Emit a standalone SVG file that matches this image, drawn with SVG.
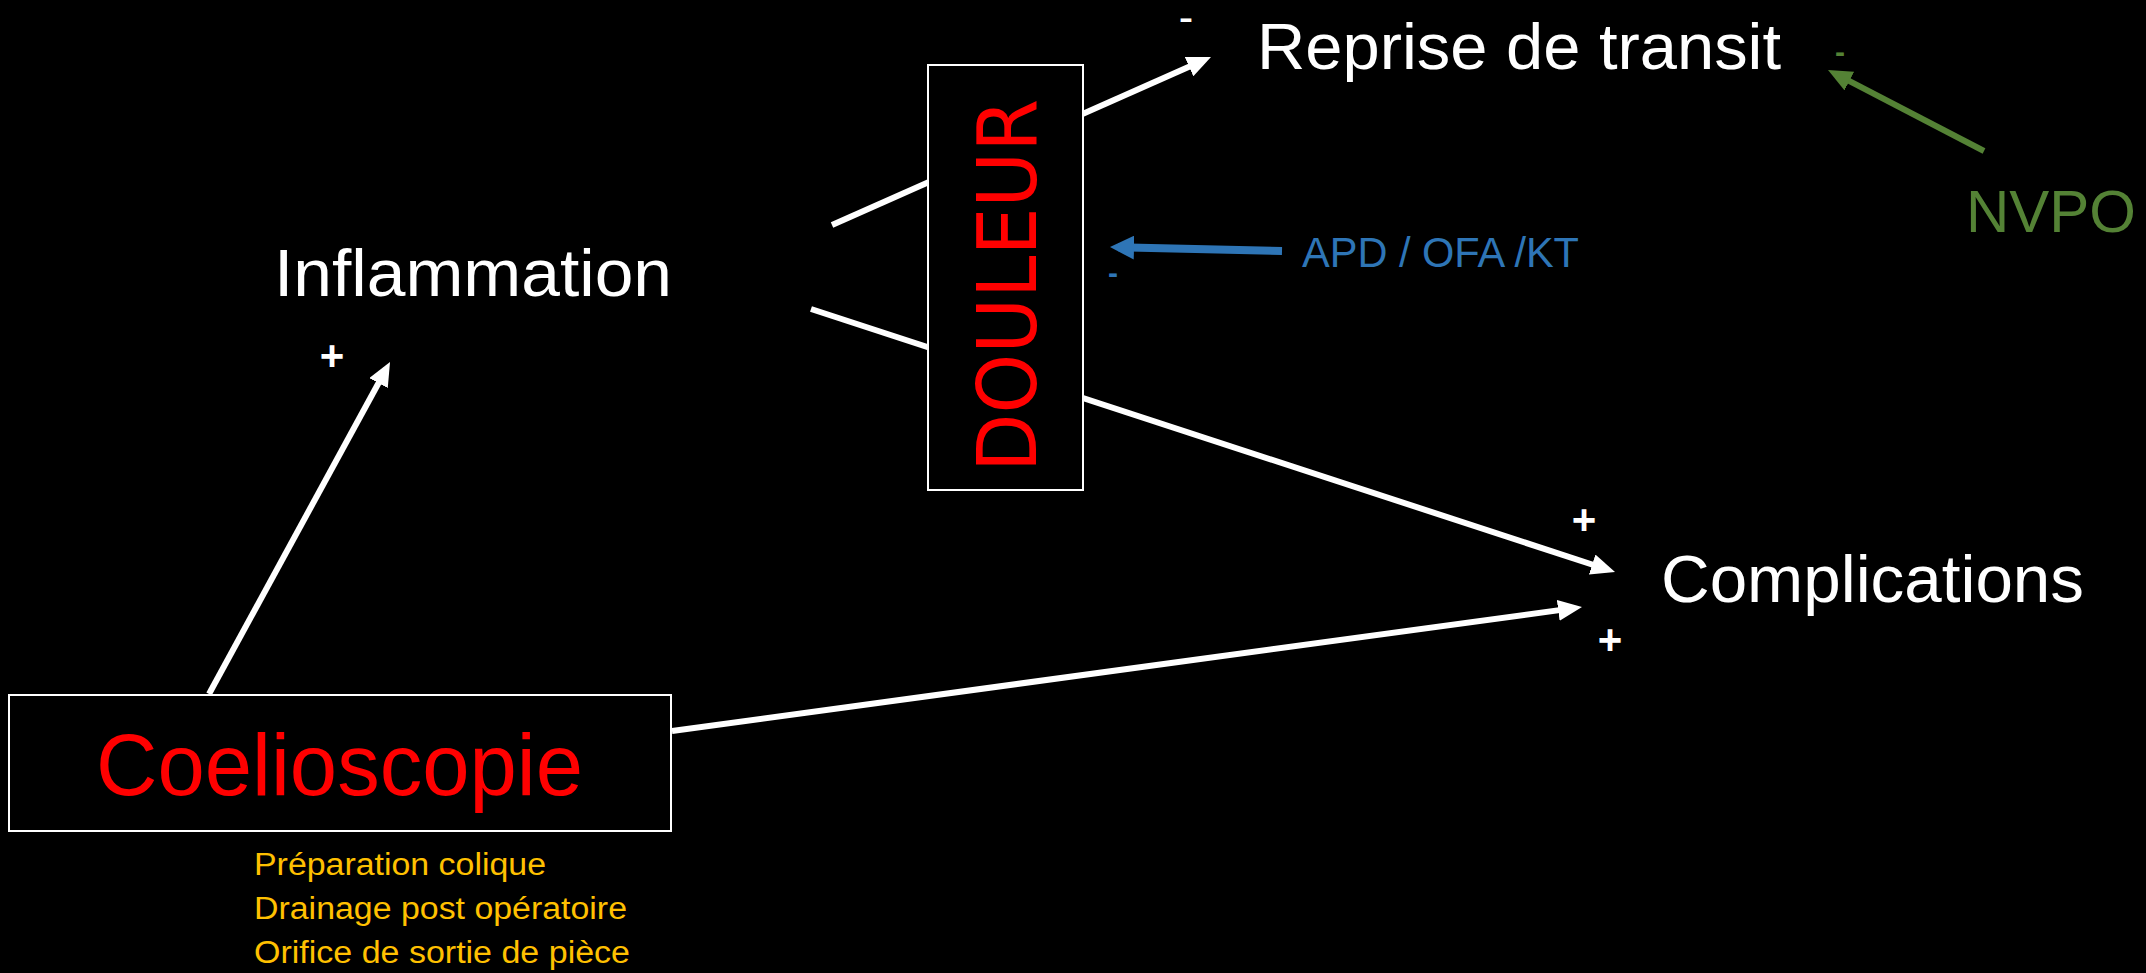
<svg xmlns="http://www.w3.org/2000/svg" width="2146" height="973" viewBox="0 0 2146 973">
<defs>
<style>
.bg{fill:#000}
.w{fill:#fff;font-family:"Liberation Sans",Arial,sans-serif}
.box{fill:#000;stroke:#fff;stroke-width:2}
.cw{stroke:#fff;stroke-width:6;fill:none}
.cb{stroke:#2E75B6;stroke-width:8;fill:none}
.cg{stroke:#548235;stroke-width:6;fill:none}
.red{fill:#FF0000}
.yel{fill:#FFC000;font-family:"Liberation Sans",Arial,sans-serif;font-size:31px}
.blue{fill:#2E75B6;font-family:"Liberation Sans",Arial,sans-serif}
.green{fill:#548235;font-family:"Liberation Sans",Arial,sans-serif}
.sign{font-family:"Liberation Sans",Arial,sans-serif;font-weight:bold;text-anchor:middle}
</style>
<marker id="aw" markerUnits="strokeWidth" markerWidth="4" markerHeight="3.5" viewBox="0 0 4 3.5" refX="2.67" refY="1.75" orient="auto"><path d="M0,0 L4,1.75 L0,3.5 z" fill="#fff"/></marker>
<marker id="ab" markerUnits="strokeWidth" markerWidth="3" markerHeight="3" viewBox="0 0 3 3" refX="2" refY="1.5" orient="auto"><path d="M0,0 L3,1.5 L0,3 z" fill="#2E75B6"/></marker>
<marker id="ag" markerUnits="strokeWidth" markerWidth="4" markerHeight="3.5" viewBox="0 0 4 3.5" refX="2.67" refY="1.75" orient="auto"><path d="M0,0 L4,1.75 L0,3.5 z" fill="#548235"/></marker>
</defs>
<rect class="bg" x="0" y="0" width="2146" height="973"/>
<g id="connectors">
<path class="cw" d="M832,225 L1203.7,60.2" marker-end="url(#aw)"/>
<path class="cw" d="M811,309 L1607.4,569.5" marker-end="url(#aw)"/>
<path class="cw" d="M672,731 L1574.1,608.1" marker-end="url(#aw)"/>
<path class="cw" d="M209,694 L386.2,369" marker-end="url(#aw)"/>
<path class="cb" d="M1282,251 L1118,247.2" marker-end="url(#ab)"/>
<path class="cg" d="M1984,151 L1835.1,73.7" marker-end="url(#ag)"/>
<text class="w sign" x="1186" y="28" font-size="30" textLength="14" lengthAdjust="spacingAndGlyphs">-</text>
<text class="w sign" x="332" y="370" font-size="42">+</text>
<text class="w sign" x="1584" y="534" font-size="42">+</text>
<text class="w sign" x="1610" y="654" font-size="42">+</text>
<text class="blue sign" x="1113" y="283" font-size="30" font-weight="normal">-</text>
<text class="green sign" x="1840" y="62" font-size="30" font-weight="normal">-</text>
</g>
<g id="node-douleur">
<rect class="box" x="928" y="65" width="155" height="425"/>
<text class="red" font-family="'DejaVu Sans',Verdana,sans-serif" font-size="82" text-anchor="middle" textLength="373" lengthAdjust="spacingAndGlyphs" transform="translate(1036,285.5) rotate(-90)">DOULEUR</text>
</g>
<g id="node-reprise">
<text class="w" x="1257" y="69" font-size="64" textLength="524" lengthAdjust="spacingAndGlyphs">Reprise de transit</text>
</g>
<g id="node-inflammation">
<text class="w" x="274" y="296" font-size="67" textLength="398" lengthAdjust="spacingAndGlyphs">Inflammation</text>
</g>
<g id="node-complications">
<text class="w" x="1661" y="602" font-size="66" textLength="423" lengthAdjust="spacingAndGlyphs">Complications</text>
</g>
<g id="node-apd">
<text class="blue" x="1302" y="267" font-size="42" textLength="277" lengthAdjust="spacingAndGlyphs">APD / OFA /KT</text>
</g>
<g id="node-nvpo">
<text class="green" x="1966" y="232" font-size="60">NVPO</text>
</g>
<g id="node-coelioscopie">
<rect class="box" x="9" y="695" width="662" height="136"/>
<text class="red" font-family="'Liberation Sans',Arial,sans-serif" x="96" y="795" font-size="87" textLength="487" lengthAdjust="spacingAndGlyphs">Coelioscopie</text>
</g>
<g id="node-facteurs">
<text class="yel" x="254" y="875" textLength="292" lengthAdjust="spacingAndGlyphs">Préparation colique</text>
<text class="yel" x="254" y="919" textLength="373" lengthAdjust="spacingAndGlyphs">Drainage post opératoire</text>
<text class="yel" x="254" y="963" textLength="376" lengthAdjust="spacingAndGlyphs">Orifice de sortie de pièce</text>
</g>
</svg>
